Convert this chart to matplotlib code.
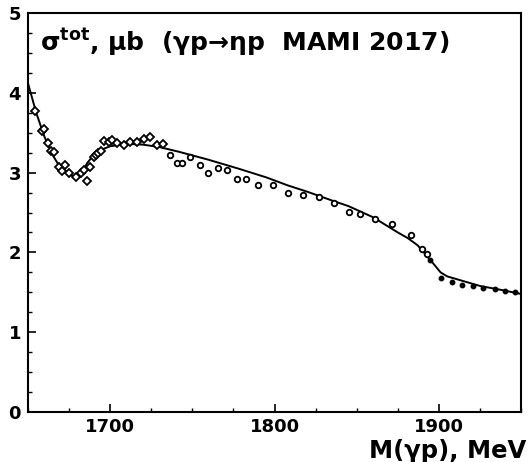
import numpy as np
import matplotlib.pyplot as plt
import matplotlib as mpl
from matplotlib.ticker import MultipleLocator

mpl.rcParams['font.family'] = ['DejaVu Sans']
mpl.rcParams['font.weight'] = 'bold'
mpl.rcParams['mathtext.default'] = 'bf'
mpl.rcParams['xtick.direction'] = 'in'
mpl.rcParams['ytick.direction'] = 'in'

# MAMI 2017 data, open diamonds
m_diam = [1654.2, 1658.3, 1659.9, 1661.9, 1663.7, 1665.9, 1668.8, 1670.8, 1672.8,
          1674.8, 1679.0, 1682.5, 1684.0, 1686.1, 1687.9, 1690.1, 1691.3, 1692.8,
          1694.3, 1696.2, 1699.0, 1701.0, 1704.3, 1708.3, 1712.3, 1716.3, 1720.4,
          1724.2, 1728.4, 1732.3]
s_diam = [3.77, 3.52, 3.54, 3.37, 3.27, 3.26, 3.07, 3.02, 3.10,
          2.99, 2.94, 2.99, 3.03, 2.90, 3.07, 3.19, 3.22, 3.25,
          3.27, 3.40, 3.38, 3.41, 3.37, 3.35, 3.38, 3.38, 3.42,
          3.44, 3.35, 3.36]

# open circles
m_circ = [1736.5, 1740.6, 1743.4, 1748.6, 1754.7, 1759.7, 1765.7, 1770.8, 1776.9,
          1782.9, 1789.9, 1799.0, 1808.1, 1817.2, 1827.3, 1836.3, 1845.4, 1852.0,
          1861.3, 1871.6, 1882.7, 1889.7, 1892.8]
s_circ = [3.22, 3.12, 3.12, 3.19, 3.10, 3.00, 3.06, 3.03, 2.92,
          2.92, 2.85, 2.84, 2.75, 2.72, 2.69, 2.62, 2.51, 2.48,
          2.42, 2.35, 2.22, 2.04, 1.98]

# filled dots
m_dot = [1894.6, 1901.2, 1907.7, 1913.8, 1920.8, 1926.9, 1933.9, 1940.0, 1946.0]
s_dot = [1.90, 1.68, 1.63, 1.59, 1.58, 1.56, 1.54, 1.52, 1.51]

# model curve
m_fit = [1650, 1655, 1660, 1665, 1670, 1675, 1680, 1683, 1686, 1690, 1695, 1700,
         1710, 1720, 1730, 1742, 1760, 1778, 1795, 1808, 1820, 1835, 1845, 1860,
         1875, 1881, 1887, 1895, 1901, 1905, 1915, 1925, 1938, 1950]
s_fit = [4.12, 3.75, 3.45, 3.22, 3.05, 2.97, 2.95, 3.00, 3.12, 3.22, 3.29, 3.33,
         3.36, 3.35, 3.32, 3.26, 3.16, 3.05, 2.94, 2.84, 2.76, 2.65, 2.58, 2.44,
         2.25, 2.18, 2.09, 1.90, 1.75, 1.70, 1.64, 1.58, 1.53, 1.48]

fig = plt.figure(figsize=(5.28, 4.62), dpi=100)
ax = fig.add_axes([0.053, 0.108, 0.934, 0.864])

ax.plot(m_fit, s_fit, color='black', lw=1.4)
ax.plot(m_diam, s_diam, ls='none', marker='D', ms=4, mfc='white', mec='black', mew=1.3)
ax.plot(m_circ, s_circ, ls='none', marker='o', ms=4, mfc='white', mec='black', mew=1.3)
ax.plot(m_dot, s_dot, ls='none', marker='o', ms=3.2, color='black')

ax.set_xlim(1650, 1950)
ax.set_ylim(0, 5)
ax.xaxis.set_major_locator(MultipleLocator(100))
ax.xaxis.set_minor_locator(MultipleLocator(25))
ax.yaxis.set_major_locator(MultipleLocator(1))
ax.yaxis.set_minor_locator(MultipleLocator(0.25))
ax.tick_params(which='major', length=6, width=1.2, labelsize=13)
ax.tick_params(which='minor', length=3, width=1.0)
ax.tick_params(axis='x', which='major', pad=4)
ax.tick_params(axis='y', which='major', pad=5)
for t in ax.get_xticklabels() + ax.get_yticklabels():
    t.set_fontweight('bold')
for s in ax.spines.values():
    s.set_linewidth(1.5)

ax.text(0.025, 0.927, r'σ$^{tot}$, μb  (γp→ηp  MAMI 2017)',
        transform=ax.transAxes, fontsize=18, fontweight='bold', va='center', ha='left')
fig.text(0.997, -0.003, 'M(γp), MeV', fontsize=17.5, fontweight='bold', ha='right', va='bottom')

plt.savefig('out.png', dpi=100)
